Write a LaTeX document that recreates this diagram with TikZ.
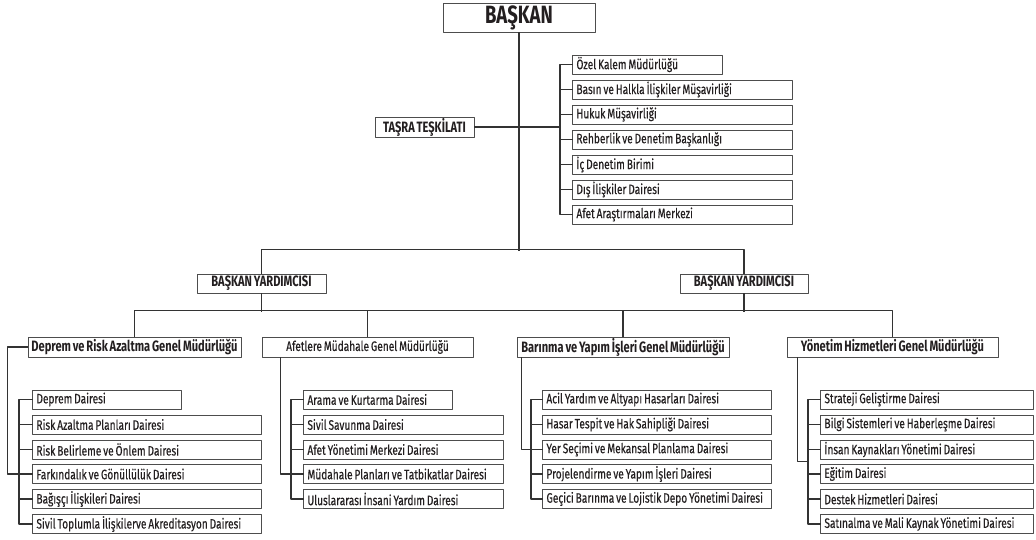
\documentclass[tikz,border=0pt]{standalone}
\usepackage{fontspec}
\setmainfont{Fira Sans}[FakeStretch=0.74, WordSpace=0.7, UprightFeatures={FakeBold=0.3}]
\usetikzlibrary{calc}
\definecolor{linec}{HTML}{333333}
\definecolor{boxc}{HTML}{4D4D4D}
\definecolor{textc}{HTML}{231F20}

\begin{document}
\begin{tikzpicture}[x=1pt, y=-1pt,
			line join=round, line cap=rect,
			every node/.style={inner sep=0pt, text=textc, font=\fontsize{13.7}{16}\selectfont},
			box/.style={draw=boxc, line width=0.9pt, fill=white, minimum height=19pt},
			head/.style={box, font=\fontsize{15}{16}\selectfont\bfseries},
			unit/.style={box, anchor=west, inner xsep=4pt, align=flush left, text width=#1},
			link/.style={draw=linec, line width=1.4pt}
			]
			\useasboundingbox (0,0) rectangle (1036,540);
			% top
			\node[head, minimum width=152pt, minimum height=29pt, font=\fontsize{25}{27}\selectfont\bfseries] (bskn) at (519,17.5) {BAŞKAN};
			\node[head, minimum width=99pt, minimum height=20pt] (tasra) at (424.5,127) {TAŞRA TEŞKİLATI};
			\node[unit=142pt] (o1) at (572,64.5) {Özel Kalem Müdürlüğü};
			\node[unit=212pt] (o2) at (572,89.5) {Basın ve Halkla İlişkiler Müşavirliği};
			\node[unit=212pt] (o3) at (572,114.5) {Hukuk Müşavirliği};
			\node[unit=212pt] (o4) at (572,139.5) {Rehberlik ve Denetim Başkanlığı};
			\node[unit=212pt] (o5) at (572,164.5) {İç Denetim Birimi};
			\node[unit=212pt] (o6) at (572,189.5) {Dış İlişkiler Dairesi};
			\node[unit=212pt] (o7) at (572,214.5) {Afet Araştırmaları Merkezi};
			% deputies and directorates
			\node[head, minimum width=129pt] (by1) at (261.5,283.5) {BAŞKAN YARDIMCISI};
			\node[head, minimum width=128pt] (by2) at (744,283.5) {BAŞKAN YARDIMCISI};
			\node[head, minimum width=213pt, minimum height=20pt] (dr) at (134.5,347) {Deprem ve Risk Azaltma Genel Müdürlüğü};
			\node[box, minimum width=211pt, minimum height=20pt] (af) at (367.5,347) {Afetlere Müdahale Genel Müdürlüğü};
			\node[head, minimum width=212pt, minimum height=20pt] (br) at (623,347) {Barınma ve Yapım İşleri Genel Müdürlüğü};
			\node[head, minimum width=211pt, minimum height=20pt] (yn) at (892.5,347) {Yönetim Hizmetleri Genel Müdürlüğü};
			% departments
			\node[unit=141pt] (d1) at (32,399.5) {Deprem Dairesi};
			\node[unit=221pt] (d2) at (32,424.5) {Risk Azaltma Planları Dairesi};
			\node[unit=221pt] (d3) at (32,449.5) {Risk Belirleme ve Önlem Dairesi};
			\node[unit=221pt] (d4) at (32,474) {Farkındalık ve Gönüllülük Dairesi};
			\node[unit=221pt] (d5) at (32,499) {Bağışçı İlişkileri Dairesi};
			\node[unit=221pt] (d6) at (32,524) {Sivil Toplumla İlişkilerve Akreditasyon Dairesi};
			\node[unit=141pt] (a1) at (303,399.5) {Arama ve Kurtarma Dairesi};
			\node[unit=192pt] (a2) at (303,424.5) {Sivil Savunma Dairesi};
			\node[unit=192pt] (a3) at (303,449.5) {Afet Yönetimi Merkezi Dairesi};
			\node[unit=192pt] (a4) at (303,474) {Müdahale Planları ve Tatbikatlar Dairesi};
			\node[unit=192pt] (a5) at (303,499) {Uluslararası İnsani Yardım Dairesi};
			\node[unit=221pt] (b1) at (542,399.5) {Acil Yardım ve Altyapı Hasarları Dairesi};
			\node[unit=221pt] (b2) at (542,424.5) {Hasar Tespit ve Hak Sahipliği Dairesi};
			\node[unit=221pt] (b3) at (542,449.5) {Yer Seçimi ve Mekansal Planlama Dairesi};
			\node[unit=221pt] (b4) at (542,474) {Projelendirme ve Yapım İşleri Dairesi};
			\node[unit=221pt] (b5) at (542,499) {Geçici Barınma ve Lojistik Depo Yönetimi Dairesi};
			\node[unit=205pt] (y1) at (820,399.5) {Strateji Geliştirme Dairesi};
			\node[unit=205pt] (y2) at (820,424.5) {Bilgi Sistemleri ve Haberleşme Dairesi};
			\node[unit=205pt] (y3) at (820,449.5) {İnsan Kaynakları Yönetimi Dairesi};
			\node[unit=205pt] (y4) at (820,474) {Eğitim Dairesi};
			\node[unit=205pt] (y5) at (820,499) {Destek Hizmetleri Dairesi};
			\node[unit=205pt] (y6) at (820,524) {Satınalma ve Mali Kaynak Yönetimi Dairesi};
			% lines
			\coordinate (spine) at (560,127);
			\draw[link] (bskn.south) -- ++(0,218);
			\draw[link] (tasra.east) -- (spine);
			\draw[link] (o1.west) -- ++(-12,0) |- (o7.west);
			\foreach \n in {2,...,6} \draw[link] (o\n.west) -- ++(-12,0);
			\draw[link] (by1.north) -- ++(0,-24) -| (by2.north);
			\draw[link] (by1.south) -- ++(0,18);
			\draw[link] (by2.south) -- ++(0,18);
			\draw[link] (dr.north) -- ++(0,-26) -| (yn.north);
			\draw[link] (af.north) -- ++(0,-26);
			\draw[link] (br.north) -- ++(0,-26);
			\draw[link] (dr.west) -- ++(-20,0) |- (d4.west);
			\draw[link] (d1.west) -- ++(-13,0) |- (d6.west);
			\foreach \n in {2,...,5} \draw[link] (d\n.west) -- ++(-13,0);
			\draw[link] ([xshift=19pt]af.south west) |- (a4.west);
			\draw[link] (a1.west) -- ++(-12,0) |- (a5.west);
			\foreach \n in {2,3} \draw[link] (a\n.west) -- ++(-12,0);
			\draw[link] ([xshift=5pt]br.south west) |- (b3.west);
			\draw[link] (b1.west) -- ++(-11,0) |- (b5.west);
			\foreach \n in {2,4} \draw[link] (b\n.west) -- ++(-11,0);
			\draw[link] ([xshift=11pt]yn.south west) |- ($(y3.west)!.5!(y4.west)+(-12,0)$);
			\draw[link] (y1.west) -- ++(-12,0) |- (y6.west);
			\foreach \n in {2,...,5} \draw[link] (y\n.west) -- ++(-12,0);
\end{tikzpicture}
\end{document}
